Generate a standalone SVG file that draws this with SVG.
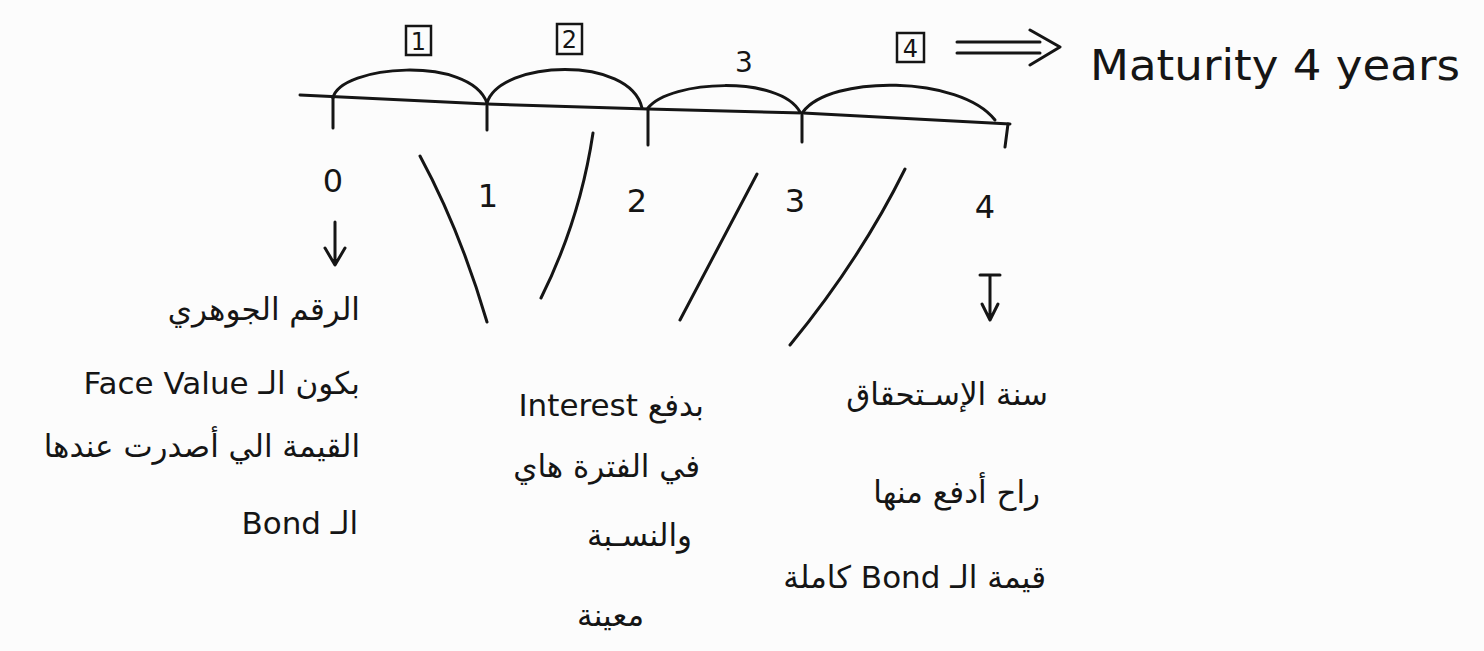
<svg xmlns="http://www.w3.org/2000/svg" width="1484" height="651" viewBox="0 0 1484 651">
<defs>
<style>
.ink{fill:none;stroke:#151515;stroke-width:3;stroke-linecap:round;stroke-linejoin:round}
.t{font-family:"DejaVu Sans","Liberation Sans",sans-serif;fill:#151515}
.ar{font-size:31px;direction:rtl;text-anchor:start}
.num{font-size:32px;text-anchor:middle}
.box{fill:none;stroke:#151515;stroke-width:2.5}
</style>
</defs>
<rect width="1484" height="651" fill="#fcfcfc"/>
<g id="timeline">
<path class="ink" d="M300 95 L487 104 L648 109 L803 113 L1010 124"/>
<path class="ink" d="M333 98 V128 M487 106 V130 M648 110 V145 M802 115 V142 M1008 124 L1005 147"/>
<path class="ink" d="M333 98 C340 65 470 55 487 103"/>
<path class="ink" d="M487 103 C500 60 630 55 642 108"/>
<path class="ink" d="M648 108 C670 80 780 75 800 112"/>
<path class="ink" d="M803 112 C830 75 960 75 995 120"/>
</g>
<g id="periods">
<rect class="box" x="406" y="26" width="25" height="29"/>
<text class="t" x="418.5" y="50" font-size="24" text-anchor="middle">1</text>
<rect class="box" x="557" y="24" width="25" height="30"/>
<text class="t" x="569.5" y="48" font-size="24" text-anchor="middle">2</text>
<text class="t" x="744" y="72" font-size="28" text-anchor="middle">3</text>
<rect class="box" x="897" y="33" width="27" height="29"/>
<text class="t" x="910.5" y="57" font-size="24" text-anchor="middle">4</text>
</g>
<g id="maturity">
<path class="ink" d="M957 42 H1040 M957 53 H1040 M1030 30 L1060 47 L1030 65"/>
<text class="t" x="1090" y="80" font-size="42" textLength="370" lengthAdjust="spacingAndGlyphs">Maturity 4 years</text>
</g>
<g id="points">
<text class="t num" x="333" y="192">0</text>
<text class="t num" x="488" y="207">1</text>
<text class="t num" x="637" y="212">2</text>
<text class="t num" x="795" y="212">3</text>
<text class="t num" x="985" y="218">4</text>
</g>
<g id="connectors">
<path class="ink" d="M335 222 V262 M325 248 L335 265 L345 248"/>
<path class="ink" d="M980 275 H1000 M990 275 V315 M982 304 L990 320 L998 304"/>
<path class="ink" d="M420 156 Q460 230 487 322"/>
<path class="ink" d="M593 133 Q580 220 541 298"/>
<path class="ink" d="M757 174 L680 320"/>
<path class="ink" d="M905 169 Q860 260 790 345"/>
</g>
<g id="note-left">
<text class="t ar" x="360" y="320">الرقم الجوهري</text>
<text class="t ar" x="360" y="394">بكون الـ Face Value</text>
<text class="t ar" x="360" y="457">القيمة الي أصدرت عندها</text>
<text class="t ar" x="358" y="534">الـ Bond</text>
</g>
<g id="note-middle">
<text class="t ar" x="704" y="416">بدفع Interest</text>
<text class="t ar" x="700" y="477">في الفترة هاي</text>
<text class="t ar" x="692" y="546">والنسـبة</text>
<text class="t ar" x="644" y="626">معينة</text>
</g>
<g id="note-right">
<text class="t ar" x="1048" y="405">سنة الإسـتحقاق</text>
<text class="t ar" x="1040" y="503">راح أدفع منها</text>
<text class="t ar" x="1046" y="588">قيمة الـ Bond كاملة</text>
</g>
</svg>
